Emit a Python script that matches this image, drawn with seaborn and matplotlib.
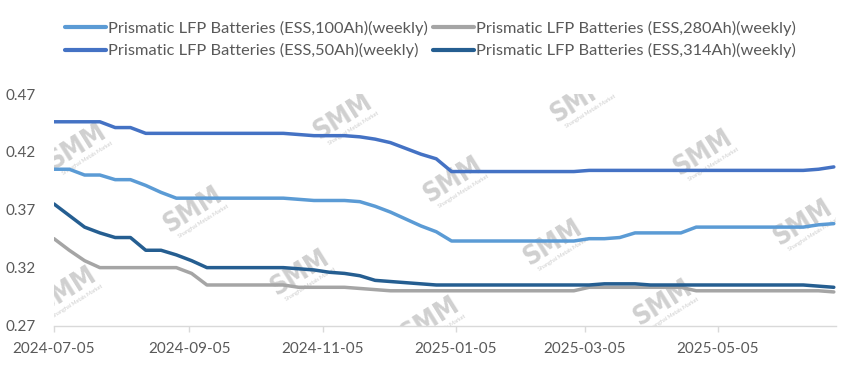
import matplotlib
matplotlib.use("Agg")
import matplotlib.pyplot as plt
import seaborn as sns
import pandas as pd
import numpy as np

# ---------------- data ----------------
start_date = "2024-07-05"
n_weeks = 52
series_names = [
    "Prismatic LFP Batteries (ESS,100Ah)(weekly)",
    "Prismatic LFP Batteries (ESS,50Ah)(weekly)",
    "Prismatic LFP Batteries (ESS,280Ah)(weekly)",
    "Prismatic LFP Batteries (ESS,314Ah)(weekly)",
]
ess_100ah = [0.405, 0.405, 0.400, 0.400, 0.396, 0.396, 0.391, 0.385, 0.380, 0.380,
             0.380, 0.380, 0.380, 0.380, 0.380, 0.380, 0.379, 0.378, 0.378, 0.378,
             0.377, 0.373, 0.368, 0.362, 0.356, 0.351, 0.343, 0.343, 0.343, 0.343,
             0.343, 0.343, 0.343, 0.343, 0.343, 0.345, 0.345, 0.346, 0.350, 0.350,
             0.350, 0.350, 0.355, 0.355, 0.355, 0.355, 0.355, 0.355, 0.355, 0.355,
             0.357, 0.358]
ess_50ah = [0.446, 0.446, 0.446, 0.446, 0.441, 0.441, 0.436, 0.436, 0.436, 0.436,
            0.436, 0.436, 0.436, 0.436, 0.436, 0.436, 0.435, 0.434, 0.434, 0.434,
            0.433, 0.431, 0.428, 0.423, 0.418, 0.414, 0.403, 0.403, 0.403, 0.403,
            0.403, 0.403, 0.403, 0.403, 0.403, 0.404, 0.404, 0.404, 0.404, 0.404,
            0.404, 0.404, 0.404, 0.404, 0.404, 0.404, 0.404, 0.404, 0.404, 0.404,
            0.405, 0.407]
ess_280ah = [0.345, 0.335, 0.326, 0.320, 0.320, 0.320, 0.320, 0.320, 0.320, 0.315,
             0.305, 0.305, 0.305, 0.305, 0.305, 0.305, 0.303, 0.303, 0.303, 0.303,
             0.302, 0.301, 0.300, 0.300, 0.300, 0.300, 0.300, 0.300, 0.300, 0.300,
             0.300, 0.300, 0.300, 0.300, 0.300, 0.303, 0.303, 0.303, 0.303, 0.303,
             0.303, 0.303, 0.300, 0.300, 0.300, 0.300, 0.300, 0.300, 0.300, 0.300,
             0.300, 0.299]
ess_314ah = [0.375, 0.365, 0.355, 0.350, 0.346, 0.346, 0.335, 0.335, 0.331, 0.326,
             0.320, 0.320, 0.320, 0.320, 0.320, 0.320, 0.319, 0.318, 0.316, 0.315,
             0.313, 0.309, 0.308, 0.307, 0.306, 0.305, 0.305, 0.305, 0.305, 0.305,
             0.305, 0.305, 0.305, 0.305, 0.305, 0.305, 0.306, 0.306, 0.306, 0.305,
             0.305, 0.305, 0.305, 0.305, 0.305, 0.305, 0.305, 0.305, 0.305, 0.305,
             0.304, 0.303]
tick_dates = ["2024-07-05", "2024-09-05", "2024-11-05", "2025-01-05", "2025-03-05", "2025-05-05"]
y_ticks = [0.27, 0.32, 0.37, 0.42, 0.47]

colors = {
    series_names[0]: "#5B9BD5",
    series_names[1]: "#4472C4",
    series_names[2]: "#A5A5A5",
    series_names[3]: "#255E91",
}

dates = pd.date_range(start_date, periods=n_weeks, freq="7D")
frames = []
for name, vals in zip(series_names, [ess_100ah, ess_50ah, ess_280ah, ess_314ah]):
    frames.append(pd.DataFrame({"date": dates, "price": vals, "series": name}))
df = pd.concat(frames, ignore_index=True)

# ---------------- style ----------------
sns.set_theme(style="white")
plt.rcParams["font.family"] = ["Lato", "DejaVu Sans"]
text_color = "#595959"

W, H = 851, 375
fig = plt.figure(figsize=(W / 100, H / 100), dpi=100)
ax_l, ax_r, ax_t, ax_b = 54, 836, 94, 325.5
ax = fig.add_axes([ax_l / W, 1 - ax_b / H, (ax_r - ax_l) / W, (ax_b - ax_t) / H])

# watermarks (behind lines)
def px2ax(px, py):
    return (px - ax_l) / (ax_r - ax_l), (ax_b - py) / (ax_b - ax_t)

wm_centers = [(77, 147), (343, 117), (193, 210), (300, 273), (67, 290), (453, 180),
              (553, 243), (703, 153), (663, 303), (803, 223), (580, 100), (430, 320)]
for cx, cy in wm_centers:
    fx, fy = px2ax(cx, cy)
    ax.text(fx, fy, "SMM", transform=ax.transAxes, fontsize=19, fontweight="bold",
            color="#C4C4C4", alpha=0.8, rotation=32, ha="center", va="center",
            clip_on=True, zorder=0, family=["DejaVu Sans"], fontstretch="condensed")
    fx2, fy2 = px2ax(cx + 10, cy + 11)
    ax.text(fx2, fy2, "Shanghai Metals Market", transform=ax.transAxes, fontsize=4,
            color="#C4C4C4", alpha=0.85, rotation=32, ha="center", va="center",
            clip_on=True, zorder=0)

sns.lineplot(data=df, x="date", y="price", hue="series", hue_order=series_names,
             palette=colors, linewidth=2.5, ax=ax, zorder=2)

ax.set_xlim(pd.Timestamp(start_date), pd.Timestamp("2025-06-28"))
ax.set_ylim(0.27, 0.47)
ax.set_yticks(y_ticks)
ax.set_yticklabels([f"{v:.2f}" for v in y_ticks])
ax.set_xticks([pd.Timestamp(d) for d in tick_dates])
ax.set_xticklabels(tick_dates)
ax.set_xlabel("")
ax.set_ylabel("")

for s in ["top", "right", "left"]:
    ax.spines[s].set_visible(False)
ax.spines["bottom"].set_color("#D9D9D9")
ax.spines["bottom"].set_linewidth(1.0)
ax.tick_params(axis="x", which="major", length=4, width=1, color="#D9D9D9",
               direction="out", pad=8, labelsize=11, labelcolor=text_color, bottom=True)
ax.tick_params(axis="y", length=0, pad=13, labelsize=11, labelcolor=text_color)
ax.grid(False)

leg_x, leg_y = px2ax(65, 21)
sns.move_legend(ax, loc="upper left", bbox_to_anchor=(leg_x, leg_y), ncol=2,
                frameon=False, title=None, borderpad=0, borderaxespad=0,
                handlelength=2.5, handletextpad=0.12, columnspacing=0.3,
                labelspacing=0.45, fontsize=11.8)
leg = ax.get_legend()
for t in leg.get_texts():
    t.set_color(text_color)
for h in leg.get_lines():
    h.set_linewidth(3)

fig.savefig("out.png", dpi=100)
